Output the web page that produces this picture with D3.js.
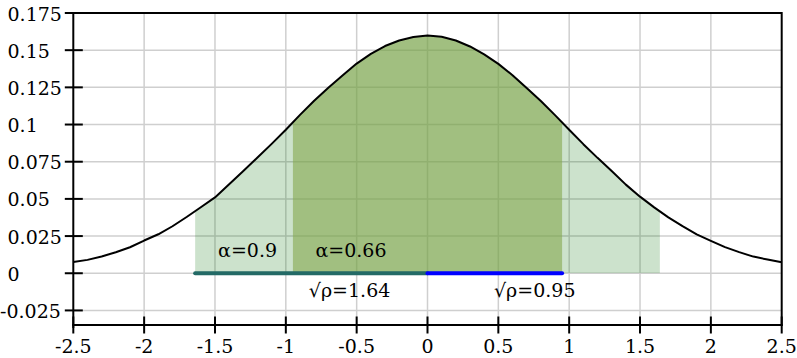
<!DOCTYPE html>
<html>
<head>
<meta charset="utf-8">
<script src="https://cdn.jsdelivr.net/npm/d3@7"></script>
</head>
<body style="margin:0">
<script>
// density, x = -2.5 .. 2.5 every 0.1
const xs = d3.range(51).map(i => +(-2.5 + i * 0.1).toFixed(1));
const density = [
  0.0075, 0.0090, 0.0113, 0.0141, 0.0175, 0.0220, 0.0262, 0.0316, 0.0378, 0.0444,
  0.0510, 0.0598, 0.0687, 0.0778, 0.0870, 0.0965, 0.1065, 0.1160, 0.1248, 0.1330,
  0.1410, 0.1475, 0.1528, 0.1565, 0.1588, 0.1598, 0.1590, 0.1565, 0.1525, 0.1472,
  0.1408, 0.1332, 0.1245, 0.1158, 0.1063, 0.0965, 0.0868, 0.0776, 0.0688, 0.0596,
  0.0515, 0.0443, 0.0376, 0.0317, 0.0262, 0.0218, 0.0176, 0.0142, 0.0112, 0.0092,
  0.0074
];
const xTicks = [-2.5, -2, -1.5, -1, -0.5, 0, 0.5, 1, 1.5, 2, 2.5];
const yTicks = [-0.025, 0, 0.025, 0.05, 0.075, 0.1, 0.125, 0.15, 0.175];
const bands = [1.64, 0.95];          // half widths of the shaded regions
const alphaLabels = ["α=0.9", "α=0.66"];
const rhoLabels = ["√ρ=1.64", "√ρ=0.95"];

const data = xs.map((x, i) => ({x: x, y: density[i]}));

const width = 797, height = 358;
const m = {left: 73.3, right: 781.7, top: 13, bottom: 325};

const x = d3.scaleLinear().domain([-2.5, 2.5]).range([m.left, m.right]);
const y = d3.scaleLinear().domain([-0.0348, 0.175]).range([m.bottom, m.top]);

const svg = d3.select("body").append("svg")
  .attr("width", width)
  .attr("height", height)
  .style("display", "block");

// labels: font set on each text element
function label(sel) {
  return sel.attr("font-family", "DejaVu Serif").attr("font-size", 19);
}

// grid
svg.append("g").selectAll("line").data(xTicks.slice(1, -1))
  .enter().append("line")
  .attr("x1", d => x(d)).attr("x2", d => x(d))
  .attr("y1", m.top).attr("y2", m.bottom)
  .attr("stroke", "#cfcfcf").attr("stroke-width", 1.5);
svg.append("g").selectAll("line").data(yTicks.slice(0, -1))
  .enter().append("line")
  .attr("x1", m.left).attr("x2", m.right)
  .attr("y1", d => y(d)).attr("y2", d => y(d))
  .attr("stroke", "#cfcfcf").attr("stroke-width", 1.5);

// shaded regions under the curve
const area = d3.area().x(d => x(d.x)).y0(y(0)).y1(d => y(d.y));
const fills = [{c: "rgb(0,112,0)", o: 0.2}, {c: "rgb(131,168,76)", o: 0.6}];
bands.forEach((b, i) => {
  svg.append("clipPath").attr("id", "band" + i)
    .append("rect")
    .attr("x", x(-b)).attr("y", m.top)
    .attr("width", x(b) - x(-b)).attr("height", y(0) - m.top);
  svg.append("path").datum(data)
    .attr("d", area)
    .attr("fill", fills[i].c)
    .attr("fill-opacity", fills[i].o)
    .attr("clip-path", "url(#band" + i + ")");
});

// curve
svg.append("path").datum(data)
  .attr("d", d3.line().x(d => x(d.x)).y(d => y(d.y)))
  .attr("fill", "none")
  .attr("stroke", "#000")
  .attr("stroke-width", 2)
  .attr("stroke-linejoin", "round");

// segments on y = 0
svg.append("line")
  .attr("x1", x(-bands[0])).attr("x2", x(0))
  .attr("y1", y(0)).attr("y2", y(0))
  .attr("stroke", "#236a66").attr("stroke-width", 4).attr("stroke-linecap", "round");
svg.append("line")
  .attr("x1", x(0)).attr("x2", x(bands[1]))
  .attr("y1", y(0)).attr("y2", y(0))
  .attr("stroke", "#0000ff").attr("stroke-width", 4).attr("stroke-linecap", "round");

// annotations
const alphaX = [-1.27, -0.54], rhoX = [-0.55, 0.757];
alphaLabels.forEach((t, i) => {
  svg.append("text").call(label)
    .attr("x", x(alphaX[i])).attr("y", y(0) - 16)
    .attr("text-anchor", "middle").text(t);
});
rhoLabels.forEach((t, i) => {
  svg.append("text").call(label)
    .attr("x", x(rhoX[i])).attr("y", y(0) + 23.5)
    .attr("text-anchor", "middle").text(t);
});

// frame and axes
svg.append("line").attr("x1", m.left).attr("x2", m.right).attr("y1", m.top).attr("y2", m.top)
  .attr("stroke", "#000").attr("stroke-width", 2);
svg.append("line").attr("x1", m.right).attr("x2", m.right).attr("y1", m.top - 1).attr("y2", m.bottom + 1)
  .attr("stroke", "#000").attr("stroke-width", 2);
svg.append("line").attr("x1", m.left).attr("x2", m.left).attr("y1", m.top - 1).attr("y2", m.bottom + 3)
  .attr("stroke", "#000").attr("stroke-width", 2);
svg.append("line").attr("x1", m.left - 1).attr("x2", m.right + 1).attr("y1", m.bottom).attr("y2", m.bottom)
  .attr("stroke", "#000").attr("stroke-width", 2);

// x ticks
svg.append("g").selectAll("line").data(xTicks).enter().append("line")
  .attr("x1", d => x(d)).attr("x2", d => x(d))
  .attr("y1", m.bottom - 8.5).attr("y2", m.bottom + 8.5)
  .attr("stroke", "#000").attr("stroke-width", 2);
xTicks.forEach(t => {
  svg.append("text").call(label)
    .attr("x", x(t)).attr("y", 353)
    .attr("text-anchor", "middle")
    .text(String(t));
});

// y ticks
svg.append("g").selectAll("line").data(yTicks).enter().append("line")
  .attr("x1", m.left - 8.5).attr("x2", m.left + 9.5)
  .attr("y1", d => y(d)).attr("y2", d => y(d))
  .attr("stroke", "#000").attr("stroke-width", 2);
yTicks.forEach(t => {
  svg.append("text").call(label)
    .attr("x", t < 0 ? 0 : 7.5).attr("y", y(t) + 7.5)
    .text(String(t));
});
</script>
</body>
</html>
